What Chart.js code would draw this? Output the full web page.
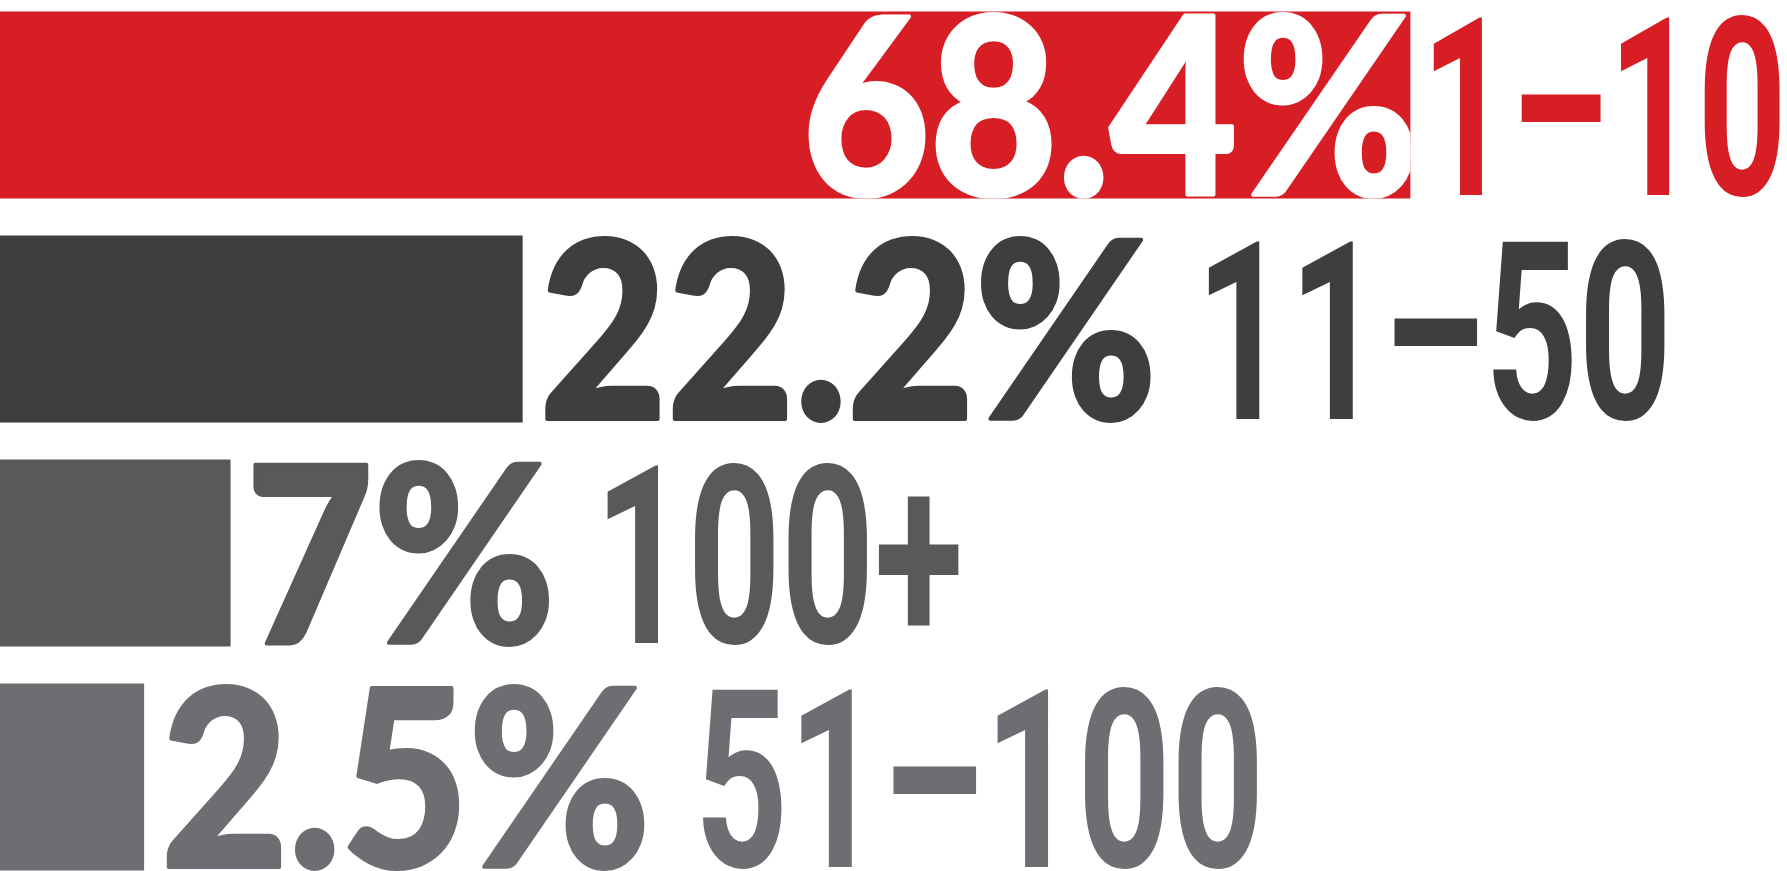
<!DOCTYPE html>
<html>
<head>
<meta charset="utf-8">
<script src="https://cdn.jsdelivr.net/npm/chart.js@4.4.1/dist/chart.umd.min.js"></script>
<style>
  html, body { margin: 0; padding: 0; background: #ffffff; overflow: hidden; }
  #wrap { position: absolute; left: 0; top: -7.5px; width: 1787px; height: 896px; }
</style>
</head>
<body>
<div id="wrap"><canvas id="chart"></canvas></div>
<script>
// ---- data ----
const categories = ['1–10', '11–50', '100+', '51–100'];
const shares = [68.4, 22.2, 7, 2.5];
const barColors = ['#D71E25', '#3E3E3F', '#58595B', '#6D6E71'];
const axisMin = -5;
const axisMax = 88;

// ---- label styling ----
const pctFont = { family: '"Lato", "DejaVu Sans", sans-serif', weight: '900', cap: 180, refText: '22.2%', refWidth: 602, stroke: 4 };
const catFont = { family: 'Roboto, "DejaVu Sans", sans-serif', weight: '700', cap: 182, refText: '11–50', refWidth: 456, stroke: 0 };
const rightMargin = 7;

function fitFont(ctx, f) {
  ctx.font = f.weight + ' 100px ' + f.family;
  const m0 = ctx.measureText('0');
  const capRatio = m0.actualBoundingBoxAscent / 100;
  const size = f.cap / capRatio;
  ctx.font = f.weight + ' ' + size + 'px ' + f.family;
  const m = ctx.measureText(f.refText);
  const inkW = m.actualBoundingBoxLeft + m.actualBoundingBoxRight;
  return { font: ctx.font, size: size, sx: f.refWidth / inkW, stroke: f.stroke };
}

function inkBox(ctx, spec, text, sx) {
  ctx.font = spec.font;
  const m = ctx.measureText(text);
  const s = sx || spec.sx;
  return { left: m.actualBoundingBoxLeft * s, right: m.actualBoundingBoxRight * s };
}

function drawScaled(ctx, spec, text, inkLeft, baseline, color, maxRight) {
  let sx = spec.sx;
  let b = inkBox(ctx, spec, text, sx);
  if (maxRight !== undefined && inkLeft + b.left + b.right > maxRight) {
    sx = sx * (maxRight - inkLeft) / (b.left + b.right);
    b = inkBox(ctx, spec, text, sx);
  }
  ctx.save();
  ctx.font = spec.font;
  ctx.fillStyle = color;
  ctx.strokeStyle = color;
  ctx.lineJoin = 'round';
  ctx.textBaseline = 'alphabetic';
  ctx.textAlign = 'left';
  ctx.translate(inkLeft + b.left, baseline);
  ctx.scale(sx, 1);
  ctx.fillText(text, 0, 0);
  if (spec.stroke > 0) {
    ctx.lineWidth = spec.stroke;
    ctx.strokeText(text, 0, 0);
  }
  ctx.restore();
  return inkLeft + b.left + b.right; // ink right
}

const barLabels = {
  id: 'barLabels',
  afterDatasetsDraw(chart) {
    const ctx = chart.ctx;
    const pSpec = fitFont(ctx, pctFont);
    const cSpec = fitFont(ctx, catFont);
    const meta = chart.getDatasetMeta(0);
    const right = chart.chartArea.right;
    const maxRight = chart.width - rightMargin;
    meta.data.forEach((bar, i) => {
      const p = bar.getProps(['x', 'y', 'base', 'height'], true);
      const pctText = shares[i] + '%';
      const catText = categories[i];
      const color = barColors[i];
      const baseline = p.y + pctFont.cap / 2;
      const pb = inkBox(ctx, pSpec, pctText);
      const cb = inkBox(ctx, cSpec, catText);
      const pW = pb.left + pb.right, cW = cb.left + cb.right;
      const gapBar = 24, gapWords = 60;
      if (p.x + gapBar + pW + gapWords + cW > right) {
        // percentage inside the bar (white), category just outside
        ctx.save();
        ctx.beginPath();
        ctx.rect(p.base, p.y - p.height / 2, p.x - p.base, p.height);
        ctx.clip();
        drawScaled(ctx, pSpec, pctText, p.x + 1 - pW, baseline, '#ffffff');
        ctx.restore();
        drawScaled(ctx, cSpec, catText, p.x + 23, baseline, color, maxRight);
      } else {
        const r = drawScaled(ctx, pSpec, pctText, p.x + gapBar, baseline, color);
        drawScaled(ctx, cSpec, catText, r + gapWords, baseline, color, maxRight);
      }
    });
  }
};

new Chart(document.getElementById('chart'), {
  type: 'bar',
  data: {
    labels: categories,
    datasets: [{
      data: shares,
      base: axisMin,
      backgroundColor: barColors,
      borderWidth: 0,
      categoryPercentage: 1,
      barPercentage: 0.835
    }]
  },
  options: {
    indexAxis: 'y',
    responsive: true,
    maintainAspectRatio: false,
    animation: false,
    layout: { padding: 0 },
    plugins: { legend: { display: false }, tooltip: { enabled: false } },
    scales: {
      x: { type: 'linear', min: axisMin, max: axisMax, display: false },
      y: { display: false }
    }
  },
  plugins: [barLabels]
});
</script>
</body>
</html>
